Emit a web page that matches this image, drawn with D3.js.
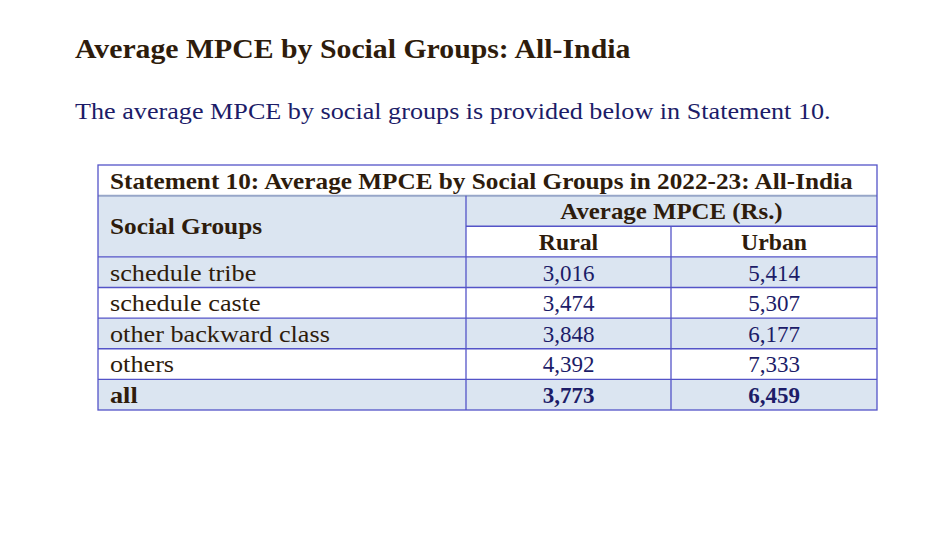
<!DOCTYPE html>
<html>
<head>
<meta charset="utf-8">
<script src="https://cdn.jsdelivr.net/npm/d3@7"></script>
<style>
  body { margin: 0; background: #fff; }
  svg text { font-family: "Liberation Serif", "DejaVu Serif", serif; }
</style>
</head>
<body>
<svg width="949" height="553"></svg>
<script>
(function (d3) {
  'use strict';
  const titleText = 'Average MPCE by Social Groups: All-India';
  const introText = 'The average MPCE by social groups is provided below in Statement 10.';
  const tableTitle = 'Statement 10: Average MPCE by Social Groups in 2022-23: All-India';
  const groupHeader = 'Social Groups';
  const valueHeader = 'Average MPCE (Rs.)';
  const sectors = ['Rural', 'Urban'];

  const groups = ['schedule tribe', 'schedule caste', 'other backward class', 'others', 'all'];
  const rural = [3016, 3474, 3848, 4392, 3773];
  const urban = [5414, 5307, 6177, 7333, 6459];

  const svg = d3.select('svg');
  const fmt = d3.format(',');

  const border = '#5454c8';
  const shade = '#dbe5f1';
  const brown = '#2e1c0c';
  const navy = '#1c1c68';

  // the source font (Palatino-like) is wider than Liberation Serif, so widen glyphs a bit
  const stretch = (sel, k) => sel.each(function () {
    const w = this.getComputedTextLength();
    d3.select(this).attr('textLength', w * k).attr('lengthAdjust', 'spacingAndGlyphs');
  });

  svg.append('text')
    .attr('x', 75).attr('y', 58)
    .attr('font-size', 28).attr('font-weight', 'bold')
    .attr('fill', brown)
    .text(titleText)
    .call(stretch, 1.063);

  svg.append('text')
    .attr('x', 75).attr('y', 119)
    .attr('font-size', 24)
    .attr('fill', navy)
    .text(introText)
    .call(stretch, 1.09);

  const rowIds = ['title', 'h1', 'h2'].concat(groups);
  const y = d3.scaleBand().domain(rowIds).range([165, 410]);
  const colX = [98, 466, 671, 877];
  const left = colX[0], right = colX[3];

  const g = svg.append('g');

  // row fills
  const fills = { title: '#fff', h1: shade, h2: '#fff' };
  groups.forEach((k, i) => { fills[k] = i % 2 === 0 ? shade : '#fff'; });

  g.selectAll('rect.row').data(rowIds).enter().append('rect')
    .attr('class', 'row')
    .attr('x', left).attr('width', right - left)
    .attr('y', d => y(d)).attr('height', y.bandwidth())
    .attr('fill', d => fills[d]);

  // "Social Groups" spans both header rows
  g.append('rect')
    .attr('x', left).attr('width', colX[1] - left)
    .attr('y', y('h1')).attr('height', y.bandwidth() * 2)
    .attr('fill', shade);

  // horizontal lines
  const hLines = [];
  rowIds.forEach((d, i) => {
    if (i === 0) return;
    hLines.push({ y: y(d), x1: (d === 'h2') ? colX[1] : left, x2: right, color: d === 'h1' ? '#97a6c8' : border, w: d === 'h1' ? 2 : 1.3 });
  });
  g.selectAll('line.h').data(hLines).enter().append('line')
    .attr('x1', d => d.x1).attr('x2', d => d.x2)
    .attr('y1', d => d.y).attr('y2', d => d.y)
    .attr('stroke', d => d.color).attr('stroke-width', d => d.w);

  // vertical lines
  const vLines = [
    { x: colX[1], y1: y('h1'), y2: y('all') + y.bandwidth() },
    { x: colX[2], y1: y('h2'), y2: y('all') + y.bandwidth() }
  ];
  g.selectAll('line.v').data(vLines).enter().append('line')
    .attr('x1', d => d.x).attr('x2', d => d.x)
    .attr('y1', d => d.y1).attr('y2', d => d.y2)
    .attr('stroke', border).attr('stroke-width', 1.3);

  g.append('rect')
    .attr('x', left).attr('y', y('title'))
    .attr('width', right - left).attr('height', y('all') + y.bandwidth() - y('title'))
    .attr('fill', 'none').attr('stroke', border).attr('stroke-width', 1.3);

  const base = d => y(d) + y.bandwidth() - 7;

  g.append('text')
    .attr('x', 110).attr('y', base('title'))
    .attr('font-size', 23).attr('font-weight', 'bold').attr('fill', brown)
    .text(tableTitle)
    .call(stretch, 1.097);

  g.append('text')
    .attr('x', 110).attr('y', y('h2') + 8)
    .attr('font-size', 23).attr('font-weight', 'bold').attr('fill', brown)
    .text(groupHeader)
    .call(stretch, 1.1);

  g.append('text')
    .attr('x', (colX[1] + colX[3]) / 2).attr('y', base('h1'))
    .attr('text-anchor', 'middle')
    .attr('font-size', 23).attr('font-weight', 'bold').attr('fill', brown)
    .text(valueHeader)
    .call(stretch, 1.08);

  g.selectAll('text.sector').data(sectors).enter().append('text')
    .attr('class', 'sector')
    .attr('x', (d, i) => (colX[i + 1] + colX[i + 2]) / 2).attr('y', base('h2'))
    .attr('text-anchor', 'middle')
    .attr('font-size', 23).attr('font-weight', 'bold').attr('fill', brown)
    .text(d => d)
    .call(stretch, 1.03);

  g.selectAll('text.group').data(groups).enter().append('text')
    .attr('class', 'group')
    .attr('x', 110).attr('y', d => base(d))
    .attr('font-size', 23)
    .attr('font-weight', d => d === 'all' ? 'bold' : 'normal')
    .attr('fill', brown)
    .text(d => d)
    .call(stretch, 1.14);

  [rural, urban].forEach((vals, c) => {
    g.selectAll('text.val' + c).data(vals).enter().append('text')
      .attr('class', 'val' + c)
      .attr('x', (colX[c + 1] + colX[c + 2]) / 2)
      .attr('y', (d, i) => base(groups[i]))
      .attr('text-anchor', 'middle')
      .attr('font-size', 23)
      .attr('font-weight', (d, i) => groups[i] === 'all' ? 'bold' : 'normal')
      .attr('fill', navy)
      .text(d => fmt(d));
  });
}(d3));
</script>
</body>
</html>
